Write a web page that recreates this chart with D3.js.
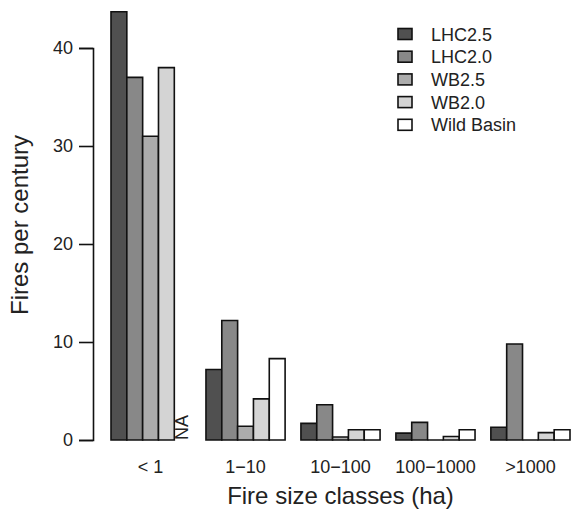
<!DOCTYPE html>
<html>
<head>
<meta charset="utf-8">
<script src="https://cdn.jsdelivr.net/npm/d3@7"></script>
<style>
  body { margin: 0; background: #fff; }
  text { font-family: "Liberation Sans", Arial, sans-serif; fill: #222; }
</style>
</head>
<body>
<svg id="chart"></svg>
<script>
const categories = ["< 1", "1\u221210", "10\u2212100", "100\u22121000", ">1000"]
const seriesNames = ["LHC2.5", "LHC2.0", "WB2.5", "WB2.0", "Wild Basin"]
const lhc25 = [43.7, 7.2, 1.7, 0.7, 1.3]
const lhc20 = [37, 12.2, 3.6, 1.8, 9.8]
const wb25 = [31, 1.4, 0.3, 0, 0]
const wb20 = [38, 4.2, 1.05, 0.35, 0.75]
const wildBasin = [null, 8.3, 1.05, 1.05, 1.05]
const yTicks = [0, 10, 20, 30, 40]
const fills = ["#505050", "#888888", "#acacac", "#d4d4d4", "#ffffff"]

const allSeries = [lhc25, lhc20, wb25, wb20, wildBasin]

const svg = d3.select("#chart")
    .attr("width", 571)
    .attr("height", 514)

// bar units like R barplot(beside=TRUE): width 1, one unit gap between groups
const x = d3.scaleLinear().domain([1, 30]).range([111, 570])
const y = d3.scaleLinear().domain([0, 40]).range([440, 48])

var bars = []
for (var g = 0; g < categories.length; g++) {
    for (var s = 0; s < allSeries.length; s++) {
        bars.push({ g: g, s: s, v: allSeries[s][g], left: 1 + g * 6 + s })
    }
}

// paths so that zero-height bars still show as a flat line
svg.append("g").selectAll("path")
    .data(bars.filter(d => d.v !== null))
    .join("path")
    .attr("d", d => {
        var x0 = x(d.left), x1 = x(d.left + 1), y0 = y(0), y1 = y(d.v)
        return "M" + x0 + "," + y0 + "V" + y1 + "H" + x1 + "V" + y0 + "Z"
    })
    .attr("fill", d => fills[d.s])
    .attr("stroke", "#111")
    .attr("stroke-width", 1.6)
    .attr("stroke-linejoin", "miter")

// NA marker for missing bar
bars.filter(d => d.v === null).forEach(d => {
    svg.append("text")
        .attr("transform", "translate(" + (x(d.left + 0.5) + 6) + "," + y(0) + ") rotate(-90)")
        .attr("font-size", 18)
        .text("NA")
})

// y axis
const yAxis = svg.append("g")
    .attr("transform", "translate(93,0)")
    .call(d3.axisLeft(y).tickValues(yTicks).tickSize(14).tickPadding(6))
yAxis.select(".domain").attr("stroke", "#111").attr("stroke-width", 1.6)
yAxis.selectAll(".tick line").attr("stroke", "#111").attr("stroke-width", 1.6)
yAxis.selectAll(".tick text")
    .attr("font-size", 18)
    .attr("font-family", "Liberation Sans, Arial, sans-serif")
    .attr("fill", "#222")

// category labels
svg.append("g").selectAll("text")
    .data(categories)
    .join("text")
    .attr("x", (d, i) => x(1 + i * 6 + 2.5))
    .attr("y", 473)
    .attr("text-anchor", "middle")
    .attr("font-size", 18)
    .text(d => d)

// axis titles
svg.append("text")
    .attr("x", (x(1) + x(30)) / 2)
    .attr("y", 504)
    .attr("text-anchor", "middle")
    .attr("font-size", 24)
    .text("Fire size classes (ha)")

svg.append("text")
    .attr("transform", "translate(28,225) rotate(-90)")
    .attr("text-anchor", "middle")
    .attr("font-size", 24)
    .text("Fires per century")

// legend
const legend = svg.append("g").selectAll("g")
    .data(seriesNames)
    .join("g")
    .attr("transform", (d, i) => "translate(398," + (34 + i * 22.7) + ")")

legend.append("rect")
    .attr("x", 0)
    .attr("y", -5.5)
    .attr("width", 14)
    .attr("height", 11)
    .attr("fill", (d, i) => fills[i])
    .attr("stroke", "#111")
    .attr("stroke-width", 1.6)

legend.append("text")
    .attr("x", 33)
    .attr("y", 6.5)
    .attr("font-size", 18)
    .text(d => d)
</script>
</body>
</html>
